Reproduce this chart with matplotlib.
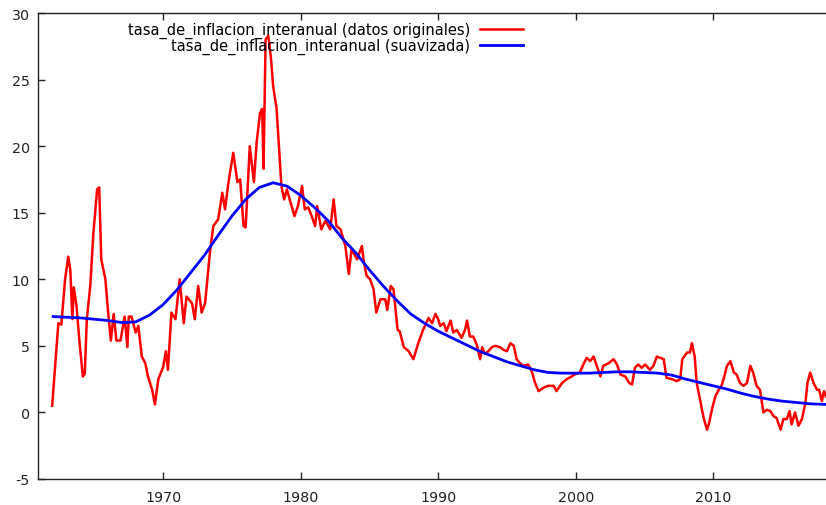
import matplotlib
matplotlib.use("Agg")
import matplotlib.pyplot as plt

# tasa de inflacion interanual, datos originales
red_years = [
    1961.93, 1962.38, 1962.6, 1962.87, 1963.1, 1963.25, 1963.4, 1963.5, 1963.7, 1963.9,
    1964.16, 1964.3, 1964.45, 1964.7, 1964.93, 1965.2, 1965.35, 1965.5, 1965.8, 1966.0,
    1966.2, 1966.4, 1966.6, 1966.9, 1967.2, 1967.4, 1967.5, 1967.7, 1968.0, 1968.2,
    1968.3, 1968.45, 1968.7, 1968.9, 1969.2, 1969.4, 1969.65, 1970.0, 1970.2, 1970.35,
    1970.6, 1970.9, 1971.2, 1971.5, 1971.7, 1972.1, 1972.3, 1972.55, 1972.8, 1973.05,
    1973.4, 1973.65, 1974.0, 1974.3, 1974.5, 1974.75, 1975.1, 1975.4, 1975.6, 1975.85,
    1976.0, 1976.3, 1976.6, 1976.8, 1977.05, 1977.2, 1977.3, 1977.45, 1977.65, 1977.85,
    1978.0, 1978.25, 1978.4, 1978.6, 1978.8, 1979.0, 1979.2, 1979.55, 1979.8, 1980.1,
    1980.3, 1980.55, 1980.8, 1981.05, 1981.2, 1981.5, 1981.8, 1982.15, 1982.4, 1982.6,
    1982.9, 1983.25, 1983.5, 1983.7, 1984.1, 1984.45, 1984.6, 1984.8, 1985.05, 1985.3,
    1985.5, 1985.8, 1986.15, 1986.3, 1986.55, 1986.75, 1987.05, 1987.2, 1987.5, 1987.85,
    1988.2, 1988.55, 1988.9, 1989.3, 1989.55, 1989.8, 1990.0, 1990.15, 1990.4, 1990.6,
    1990.9, 1991.1, 1991.35, 1991.7, 1991.95, 1992.1, 1992.3, 1992.55, 1992.8, 1993.05,
    1993.2, 1993.4, 1993.65, 1993.9, 1994.15, 1994.5, 1994.75, 1995.0, 1995.25, 1995.5,
    1995.7, 1995.95, 1996.2, 1996.55, 1996.8, 1997.05, 1997.3, 1997.65, 1998.0, 1998.4,
    1998.6, 1999.0, 1999.35, 1999.7, 2000.0, 2000.3, 2000.6, 2000.8, 2001.05, 2001.3,
    2001.5, 2001.8, 2002.0, 2002.4, 2002.75, 2003.0, 2003.25, 2003.6, 2003.9, 2004.1,
    2004.3, 2004.55, 2004.8, 2005.05, 2005.4, 2005.65, 2005.9, 2006.15, 2006.4, 2006.6,
    2007.0, 2007.35, 2007.6, 2007.75, 2008.1, 2008.3, 2008.45, 2008.65, 2008.8, 2009.05,
    2009.3, 2009.55, 2009.7, 2009.9, 2010.15, 2010.4, 2010.6, 2010.75, 2011.0, 2011.25,
    2011.5, 2011.7, 2011.95, 2012.2, 2012.45, 2012.7, 2012.9, 2013.15, 2013.4, 2013.65,
    2013.9, 2014.15, 2014.4, 2014.6, 2014.9, 2015.1, 2015.35, 2015.55, 2015.7, 2015.95,
    2016.2, 2016.45, 2016.7, 2016.85, 2017.05, 2017.3, 2017.55, 2017.7, 2017.9, 2018.05,
    2018.2,
]
red_vals = [
    0.5, 6.7, 6.6, 10.0, 11.7, 10.7, 7.0, 9.4, 8.0, 5.5,
    2.7, 2.9, 7.0, 9.5, 13.5, 16.75, 16.9, 11.5, 10.0, 7.5,
    5.4, 7.4, 5.4, 5.4, 7.2, 4.9, 7.2, 7.2, 6.0, 6.5,
    5.5, 4.2, 3.7, 2.7, 1.7, 0.6, 2.5, 3.4, 4.6, 3.2,
    7.5, 7.0, 10.0, 6.7, 8.7, 8.2, 7.0, 9.5, 7.5, 8.2,
    12.0, 14.0, 14.5, 16.5, 15.25, 17.3, 19.5, 17.3, 17.5, 14.0,
    13.9, 20.0, 17.3, 20.3, 22.5, 22.8, 18.3, 28.0, 28.3, 26.5,
    24.5, 22.8, 20.3, 17.0, 16.0, 16.75, 16.0, 14.75, 15.5, 17.0,
    15.25, 15.4, 14.75, 14.0, 15.5, 13.75, 14.4, 13.75, 16.0, 14.0,
    13.75, 12.5, 10.4, 12.25, 11.5, 12.5, 11.25, 10.25, 10.0, 9.25,
    7.5, 8.5, 8.5, 7.7, 9.5, 9.25, 6.2, 6.1, 4.9, 4.6,
    4.0, 5.2, 6.2, 7.1, 6.7, 7.4, 7.0, 6.5, 6.7, 6.1,
    6.9, 6.0, 6.2, 5.6, 6.2, 6.9, 5.7, 5.7, 5.1, 4.0,
    4.9, 4.4, 4.6, 4.9, 5.0, 4.9, 4.7, 4.6, 5.2, 5.0,
    4.0, 3.7, 3.5, 3.6, 3.1, 2.2, 1.6, 1.85, 2.0, 2.0,
    1.6, 2.2, 2.5, 2.7, 2.9, 3.0, 3.7, 4.1, 3.85, 4.2,
    3.6, 2.7, 3.5, 3.7, 4.0, 3.6, 2.85, 2.7, 2.2, 2.1,
    3.35, 3.6, 3.35, 3.6, 3.2, 3.5, 4.2, 4.1, 4.0, 2.6,
    2.5, 2.35, 2.5, 4.0, 4.5, 4.5, 5.2, 4.2, 2.2, 0.9,
    -0.4, -1.3, -0.8, 0.2, 1.2, 1.7, 2.0, 2.5, 3.5, 3.85,
    3.0, 2.85, 2.2, 2.0, 2.2, 3.5, 3.0, 2.0, 1.7, 0.0,
    0.2, 0.1, -0.3, -0.4, -1.3, -0.5, -0.5, 0.1, -0.9, 0.0,
    -1.0, -0.5, 0.7, 2.2, 3.0, 2.2, 1.7, 1.7, 0.85, 1.6,
    1.2,
]

# serie suavizada
blue_years = [
    1962, 1963, 1964, 1965, 1966, 1967, 1968, 1969, 1970, 1971,
    1972, 1973, 1974, 1975, 1976, 1977, 1978, 1979, 1980, 1981,
    1982, 1983, 1984, 1985, 1986, 1987, 1988, 1989, 1990, 1991,
    1992, 1993, 1994, 1995, 1996, 1997, 1998, 1999, 2000, 2001,
    2002, 2003, 2004, 2005, 2006, 2007, 2008, 2009, 2010, 2011,
    2012, 2013, 2014, 2015, 2016, 2017, 2018.2,
]
blue_vals = [
    7.2, 7.15, 7.1, 7.0, 6.9, 6.75, 6.8, 7.3, 8.1, 9.2,
    10.5, 11.8, 13.3, 14.75, 16.0, 16.9, 17.25, 17.0, 16.3, 15.4,
    14.4, 13.1, 12.0, 10.7, 9.5, 8.4, 7.4, 6.7, 6.1, 5.6,
    5.1, 4.6, 4.2, 3.8, 3.5, 3.2, 3.0, 2.95, 2.95, 2.95,
    3.0, 3.05, 3.05, 3.0, 2.95, 2.8, 2.5, 2.25, 2.0, 1.75,
    1.45, 1.2, 1.0, 0.85, 0.75, 0.65, 0.6,
]

label_orig = "tasa_de_inflacion_interanual (datos originales)"
label_suav = "tasa_de_inflacion_interanual (suavizada)"
x_ticks = [1970, 1980, 1990, 2000, 2010]
y_ticks = [-5, 0, 5, 10, 15, 20, 25, 30]

plt.rcParams["font.family"] = ["DejaVu Sans"]
plt.rcParams["axes.unicode_minus"] = False
fig = plt.figure(figsize=(8.26, 5.06), dpi=100)
ax = fig.add_axes([38 / 826, 1 - 480 / 506, 1 - 38 / 826, 466 / 506])

l1, = ax.plot(red_years, red_vals, color="#ff0000", lw=1.8, label=label_orig)
l2, = ax.plot(blue_years, blue_vals, color="#0000ff", lw=2.0, label=label_suav)

ax.set_xlim(1960.9, 2018.2)
ax.set_ylim(-5, 30)
ax.set_xticks(x_ticks)
ax.set_yticks(y_ticks)
ax.tick_params(axis="x", direction="in", top=True, length=5, width=1,
               labelsize=10.3, pad=8, colors="#222222")
ax.tick_params(axis="y", direction="in", right=False, length=5, width=1,
               labelsize=10.3, pad=6, colors="#222222")
ax.spines["right"].set_visible(False)
for s in ("left", "bottom", "top"):
    ax.spines[s].set_linewidth(1.0)
    ax.spines[s].set_color("#222222")

# gnuplot-style key: text right-aligned, sample to the right
common = dict(frameon=False, markerfirst=False, fontsize=10.5, handlelength=2.95,
              handletextpad=0.7, borderpad=0, borderaxespad=0, loc="center right")
leg1 = ax.legend(handles=[l1], bbox_to_anchor=(0.6155, 0.964), **common)
ax.add_artist(leg1)
ax.legend(handles=[l2], bbox_to_anchor=(0.6155, 0.929), **common)

fig.savefig("out.png", dpi=100)
